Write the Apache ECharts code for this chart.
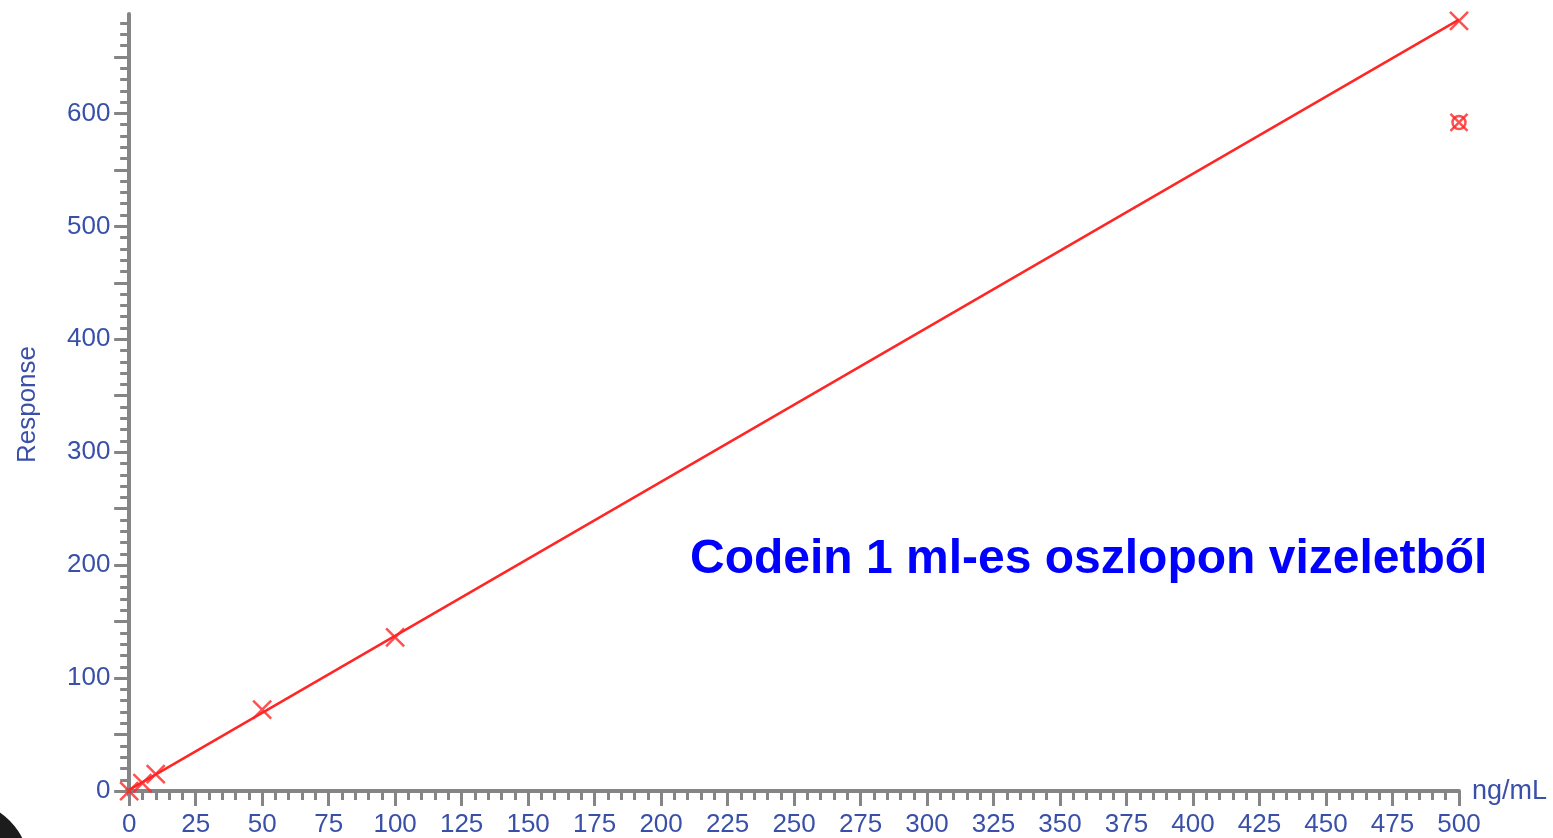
<!DOCTYPE html>
<html>
<head>
<meta charset="utf-8">
<script src="https://cdn.jsdelivr.net/npm/echarts@6/dist/echarts.min.js"></script>
<style>
  html, body { margin: 0; padding: 0; background: #fff; }
  #calibration { width: 1553px; height: 838px; }
</style>
</head>
<body>
<div id="calibration"></div>
<script>
// calibration points (ng/mL -> response)
var concentrations = [0, 5, 10, 50, 100, 500];
var responses = [0, 7, 15, 72, 136, 682];
// point excluded from the fit
var excludedConc = [500];
var excludedResp = [592];
// fitted line end points
var fitConc = [0, 500];
var fitResp = [1, 683];

// tick values
var xLabelValues = [0, 25, 50, 75, 100, 125, 150, 175, 200, 225, 250, 275, 300, 325, 350, 375, 400, 425, 450, 475, 500];
var yLabelValues = [0, 100, 200, 300, 400, 500, 600];
var xMinorTicks = [];
for (var i = 0; i <= 500; i += 5) xMinorTicks.push(i);
var yMajorTicks = [];
for (var j = 0; j <= 650; j += 50) yMajorTicks.push(j);
var yMinorTicks = [];
for (var k = 0; k <= 680; k += 10) yMinorTicks.push(k);

var axisGray = '#858585';
var labelBlue = '#3a50a8';
var red = '#ff2626';
var fontFam = 'Liberation Sans, Arial, sans-serif';
var labelFont = { color: labelBlue, fontSize: 26, fontFamily: fontFam };
var crossPath = 'path://M0,0L10,10M10,0L0,10';

var chart = echarts.init(document.getElementById('calibration'));

function pairs(xs, ys) {
  return xs.map(function (x, i) { return [x, ys[i]]; });
}

var option = {
  animation: false,
  backgroundColor: '#fff',
  grid: { left: 126.5, right: 94, top: 14, bottom: 42 },
  xAxis: [
    {
      type: 'value', min: -1, max: 500,
      axisLine: { show: true, lineStyle: { color: axisGray, width: 4 } },
      axisTick: { show: true, length: 15, customValues: xLabelValues, lineStyle: { color: axisGray, width: 3 } },
      axisLabel: Object.assign({ margin: 17, customValues: xLabelValues }, labelFont),
      splitLine: { show: false },
      name: 'ng/mL', nameLocation: 'end', nameGap: 13,
      nameTextStyle: { color: labelBlue, fontSize: 27, fontFamily: fontFam }
    },
    {
      type: 'value', min: -1, max: 500, position: 'bottom',
      axisLine: { show: false },
      axisTick: { show: true, length: 9, customValues: xMinorTicks, lineStyle: { color: axisGray, width: 3 } },
      axisLabel: { show: false },
      splitLine: { show: false }
    }
  ],
  yAxis: [
    {
      type: 'value', min: -3.5, max: 688,
      axisLine: { show: true, lineStyle: { color: axisGray, width: 4 } },
      axisTick: { show: true, length: 15, customValues: yMajorTicks, lineStyle: { color: axisGray, width: 3 } },
      axisLabel: Object.assign({ margin: 16, customValues: yLabelValues }, labelFont),
      splitLine: { show: false },
      name: 'Response', nameLocation: 'middle', nameGap: 86,
      nameTextStyle: { color: labelBlue, fontSize: 26, fontFamily: fontFam }
    },
    {
      type: 'value', min: -3.5, max: 688, position: 'left',
      axisLine: { show: false },
      axisTick: { show: true, length: 9, customValues: yMinorTicks, lineStyle: { color: axisGray, width: 3 } },
      axisLabel: { show: false },
      splitLine: { show: false }
    }
  ],
  graphic: [
    {
      type: 'text', left: 690, top: 536,
      style: {
        text: 'Codein 1 ml-es oszlopon vizeletből',
        fill: '#0000ff',
        font: 'bold 48px "Liberation Sans", Arial, sans-serif'
      }
    },
    {
      type: 'circle', shape: { cx: -40, cy: 870, r: 70 },
      style: { fill: '#1c1c1c' }
    }
  ],
  series: [
    {
      type: 'line',
      data: pairs(fitConc, fitResp),
      showSymbol: false,
      lineStyle: { color: red, width: 2.5 },
      z: 2
    },
    {
      type: 'scatter',
      data: pairs(concentrations, responses),
      symbol: crossPath,
      symbolSize: 18,
      itemStyle: { color: 'none', borderColor: red, borderWidth: 2.5 },
      z: 3
    },
    {
      type: 'scatter',
      data: pairs(excludedConc, excludedResp),
      symbol: 'circle',
      symbolSize: 13,
      itemStyle: { color: 'none', borderColor: red, borderWidth: 2.5 },
      z: 3
    },
    {
      type: 'scatter',
      data: pairs(excludedConc, excludedResp),
      symbol: crossPath,
      symbolSize: 17,
      itemStyle: { color: 'none', borderColor: red, borderWidth: 2.5 },
      z: 3
    }
  ]
};

chart.setOption(option);
</script>
</body>
</html>
